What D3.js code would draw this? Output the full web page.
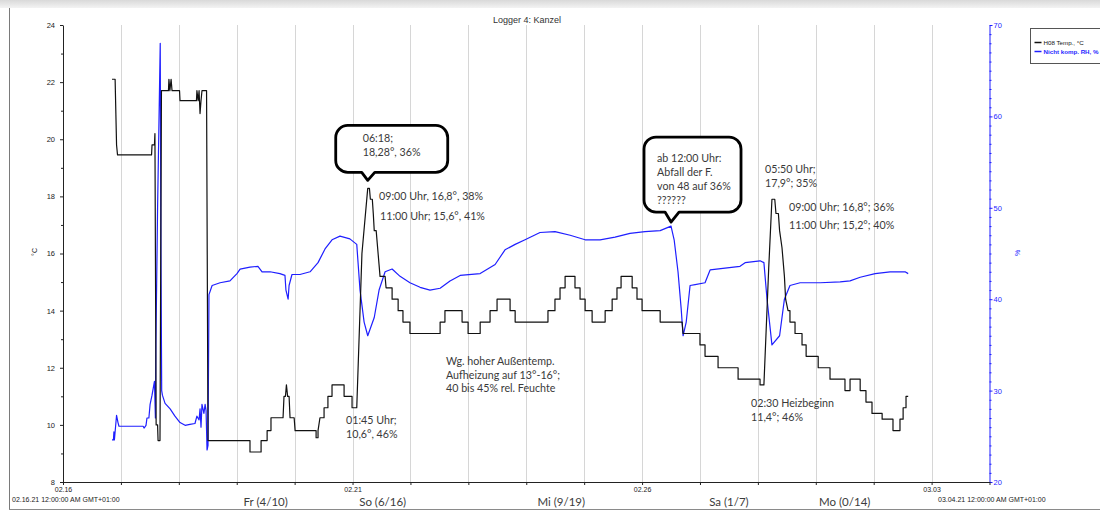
<!DOCTYPE html>
<html>
<head>
<meta charset="utf-8">
<script src="https://cdn.jsdelivr.net/npm/d3@7"></script>
<style>
  html, body { margin: 0; padding: 0; background: #fff; }
  svg { display: block; }
</style>
</head>
<body>
<svg id="chart" width="1100" height="511"></svg>
<script>
// ---- Data -------------------------------------------------------------
const chartTitle = "Logger 4: Kanzel";
const seriesNames = ["H08 Temp., °C", "Nicht komp. RH, %"];
const tempTicks = [8, 10, 12, 14, 16, 18, 20, 22, 24];
const rhTicks = [20, 30, 40, 50, 60, 70];
const dateTickLabels = ["02.16", "02.21", "02.26", "03.03"];
const rangeStartLabel = "02.16.21 12:00:00 AM GMT+01:00";
const rangeEndLabel = "03.04.21 12:00:00 AM GMT+01:00";
const weekdayLabels = ["Fr (4/10)", "So (6/16)", "Mi (9/19)", "Sa (1/7)", "Mo (0/14)"];
const weekdayHours = [84, 132.5, 206.5, 276, 324];   // label centres, hours since 16 Feb 00:00

// Readings: [hours since 16 Feb 2021 00:00, value]
const tempReadings = [
  [20.3, 22.1], [21.6, 22.1], [22.2, 19.8], [22.6, 19.45], [36.7, 19.45], [36.9, 19.8],
  [37.9, 19.8], [38.1, 20.2], [38.6, 10.0], [39.2, 10.0], [39.4, 9.45], [40.2, 9.45],
  [40.8, 21.7], [43.7, 21.7], [43.9, 22.1], [44.3, 21.7], [44.8, 22.1], [45.2, 21.7],
  [48.3, 21.7], [48.5, 21.35], [55.3, 21.35], [55.5, 21.7], [56.0, 21.35], [56.4, 21.7],
  [56.8, 20.9], [57.2, 21.35], [57.6, 21.7], [59.5, 21.7], [60.1, 9.45], [77.5, 9.45],
  [77.5, 9.05], [82.1, 9.05], [82.1, 9.45], [84.6, 9.45], [84.6, 9.8], [86.2, 9.8],
  [86.2, 10.25], [91.2, 10.25], [91.6, 11.0], [92.2, 11.0], [92.6, 11.4], [93.1, 11.0],
  [93.7, 11.0], [94.1, 10.25], [95.8, 10.25], [96.2, 9.8], [104.9, 9.8], [104.9, 9.55],
  [105.7, 9.55], [105.7, 9.8], [106.5, 10.25], [108.2, 10.25], [108.2, 10.6], [109.8, 10.6],
  [109.8, 11.0], [111.5, 11.0], [111.5, 11.4], [116.5, 11.4], [116.5, 11.0], [119.8, 11.0],
  [119.8, 10.6], [121.75, 10.6], [123.9, 16.0], [126.3, 18.28], [127.0, 18.28], [127.4, 17.9],
  [128.2, 17.9], [128.6, 17.4], [129, 16.8], [129.8, 16.8], [130.4, 16.2], [131, 15.6],
  [131.4, 15.2], [133.5, 15.2], [133.9, 14.8], [136.4, 14.8], [136.4, 14.4], [138.9, 14.4],
  [138.9, 14.0], [140.9, 14.0], [140.9, 13.6], [143.8, 13.6], [143.8, 13.2], [156.3, 13.2],
  [156.3, 13.6], [158.3, 13.6], [158.3, 14.0], [165.4, 14.0], [165.4, 13.6], [167.9, 13.6],
  [167.9, 13.2], [172.9, 13.2], [172.9, 13.6], [177.0, 13.6], [177.0, 14.0], [179.9, 14.0],
  [179.9, 14.4], [185.3, 14.4], [185.3, 14.0], [187.4, 14.0], [187.4, 13.6], [201.0, 13.6],
  [201.0, 14.0], [203.9, 14.0], [203.9, 14.4], [206.0, 14.4], [206.0, 14.8], [208.1, 14.8],
  [208.1, 15.2], [212.2, 15.2], [212.2, 14.8], [214.3, 14.8], [214.3, 14.4], [216.4, 14.4],
  [216.4, 14.0], [219.3, 14.0], [219.3, 13.6], [224.7, 13.6], [224.7, 14.0], [227.6, 14.0],
  [227.6, 14.4], [229.6, 14.4], [229.6, 14.8], [231.3, 14.8], [231.3, 15.2], [235.9, 15.2],
  [235.9, 14.8], [237.9, 14.8], [237.9, 14.4], [240.0, 14.4], [240.0, 14.0], [247.5, 14.0],
  [247.5, 13.6], [256.6, 13.6], [257.0, 13.2], [264.0, 13.2], [264.0, 12.8], [266.1, 12.8],
  [266.1, 12.4], [271.5, 12.4], [271.5, 12.0], [279.8, 12.0], [279.8, 11.6], [288.9, 11.6],
  [288.9, 11.4], [290.5, 11.4], [292.5, 15.5], [293.83, 17.9], [295.0, 17.9], [295.5, 17.4],
  [296.5, 17.4], [297, 16.8], [298, 16.2], [299, 15.2], [299.5, 14.4], [300.5, 14.0],
  [301.3, 14.0], [301.3, 13.6], [303.4, 13.6], [303.4, 13.2], [306.3, 13.2], [306.3, 12.8],
  [308.0, 12.8], [308.0, 12.4], [313.0, 12.4], [313.0, 12.0], [317.9, 12.0], [317.9, 11.6],
  [324.1, 11.6], [324.1, 11.2], [326.2, 11.2], [326.2, 11.6], [330.4, 11.6], [330.4, 11.2],
  [332.8, 11.2], [332.8, 10.8], [335.3, 10.8], [335.3, 10.4], [339.5, 10.4], [339.5, 10.2],
  [344.0, 10.2], [344.0, 9.8], [346.9, 9.8], [346.9, 10.2], [348.2, 10.2], [348.2, 10.6],
  [349.4, 10.6], [349.4, 11.0], [350.3, 11.0]
];

const rhReadings = [
  [20.3, 24.6], [20.9, 24.6], [21.1, 25.5], [21.3, 24.6], [22.2, 27.3], [22.8, 26.5],
  [23.2, 26.1], [33.2, 26.1], [33.6, 25.9], [34.4, 26.2], [34.8, 27.0], [35.6, 27.0],
  [36.1, 28.5], [36.9, 29.5], [37.3, 30.1], [37.9, 31.0], [38.3, 27.0], [38.5, 35],
  [39.2, 50], [40.3, 68.0], [40.6, 45], [40.9, 30], [41.2, 29.5], [42.3, 28.6],
  [44.4, 28.0], [46.4, 27.2], [48.5, 26.5], [50.6, 26.2], [52.6, 26.3], [54.7, 26.4],
  [55.5, 27.2], [56.4, 26.8], [56.8, 28.0], [57.2, 26.0], [57.6, 28.5], [58.4, 27.5],
  [58.9, 28.5], [59.3, 27.8], [59.7, 23.5], [60.1, 24], [60.5, 40.5], [61.8, 41.5],
  [65.1, 41.8], [69.2, 42.0], [72.1, 42.8], [73.4, 43.3], [77.5, 43.5], [80.8, 43.6],
  [82.5, 43.0], [85.8, 43.0], [89.9, 42.8], [92.0, 42.6], [92.4, 41.0], [93.3, 40.0],
  [93.7, 41.5], [94.9, 42.7], [98.2, 42.7], [102.4, 43.0], [105.7, 44.0], [108.6, 45.5],
  [111.5, 46.5], [114.8, 46.9], [118.9, 46.6], [121.75, 46], [123.1, 41], [124.8, 37.5],
  [126.3, 36], [129, 38], [131, 41], [133.5, 43.0], [136.4, 43.3], [139.7, 42.5],
  [143.8, 41.8], [148.0, 41.3], [152.1, 41.0], [156.3, 41.2], [160.4, 42.0], [164.6, 42.6],
  [172.9, 42.8], [179.1, 43.8], [183.2, 45.4], [187.4, 46.0], [191.5, 46.5], [197.7, 47.3],
  [203.9, 47.4], [210.2, 47.0], [216.4, 46.5], [222.6, 46.5], [228.8, 46.8], [235.0, 47.2],
  [241.2, 47.4], [247.5, 47.5], [252, 48], [253.3, 46.5], [254.9, 43], [256.2, 39],
  [257.0, 36], [258.3, 37.5], [259.9, 41.5], [262.0, 41.6], [266.1, 41.8], [268.2, 43.2],
  [274.4, 43.4], [280.6, 43.6], [282.7, 44.0], [288.9, 44.2], [290.5, 44.0], [291.8, 40],
  [293.83, 35], [297, 36], [299, 40], [301.3, 41.5], [305.5, 41.8], [313.8, 41.8],
  [322.1, 41.9], [326.2, 42.0], [330.4, 42.4], [336.6, 42.8], [342.8, 43.0], [349.0, 43.0],
  [350.3, 42.8]
];

// Notes written onto the chart
const calloutPeak = ["06:18;", "18,28°, 36%"];
const calloutDrop = ["ab 12:00 Uhr:", "Abfall der F.", "von 48 auf 36%", "??????"];
const notesFirst = [
  { lines: ["09:00 Uhr, 16,8°, 38%"] },
  { lines: ["11:00 Uhr; 15,6°, 41%"] },
  { lines: ["01:45 Uhr;", "10,6°, 46%"] },
  { lines: ["Wg. hoher Außentemp.", "Aufheizung auf 13°-16°;", "40 bis 45% rel. Feuchte"] }
];
const notesSecond = [
  { lines: ["05:50 Uhr;", "17,9°; 35%"] },
  { lines: ["09:00 Uhr; 16,8°; 36%"] },
  { lines: ["11:00 Uhr; 15,2°; 40%"] },
  { lines: ["02:30 Heizbeginn", "11,4°; 46%"] }
];

// ---- Scales -------------------------------------------------------------
const t0 = new Date(2021, 1, 16);
const t1 = new Date(2021, 2, 4);
const atHour = h => new Date(t0.getTime() + h * 3600e3);

const plot = { left: 63, right: 989.5, top: 25, bottom: 482 };
const x = d3.scaleTime().domain([t0, t1]).range([plot.left, plot.right]);
const yT = d3.scaleLinear().domain([8, 24]).range([plot.bottom, plot.top]);
const yH = d3.scaleLinear().domain([20, 70]).range([plot.bottom, plot.top]);

const svg = d3.select("#chart");
const AX_FONT = "'Liberation Sans', Arial, sans-serif";
const NOTE_FONT = "Lato, 'Open Sans', sans-serif";
const BLUE = "#1f1fff";

// ---- Window frame -------------------------------------------------------
const defs = svg.append("defs");
const grad = defs.append("linearGradient").attr("id", "topShade").attr("x1", 0).attr("x2", 0).attr("y1", 0).attr("y2", 1);
grad.append("stop").attr("offset", "0%").attr("stop-color", "#d9d9d9");
grad.append("stop").attr("offset", "100%").attr("stop-color", "#f3f3f3");
svg.append("rect").attr("x", 0).attr("y", 0).attr("width", 1100).attr("height", 8).attr("fill", "url(#topShade)");
svg.append("line").attr("x1", 9.5).attr("x2", 9.5).attr("y1", 8).attr("y2", 510).attr("stroke", "#7a7a7a");
svg.append("line").attr("x1", 9).attr("x2", 1100).attr("y1", 509.5).attr("y2", 509.5).attr("stroke", "#8a8a8a");

// ---- Title --------------------------------------------------------------
svg.append("text").attr("x", 527).attr("y", 23).attr("text-anchor", "middle")
  .attr("font-family", AX_FONT).attr("font-size", 9).attr("fill", "#333").text(chartTitle);

// ---- Day grid -----------------------------------------------------------
const days = d3.timeDay.range(d3.timeDay.offset(t0, 1), t1);
svg.append("g").selectAll("line").data(days).join("line")
  .attr("x1", d => Math.round(x(d)) + 0.5).attr("x2", d => Math.round(x(d)) + 0.5)
  .attr("y1", plot.top).attr("y2", plot.bottom)
  .attr("stroke", "#d6d6d6").attr("stroke-width", 1);

// ---- Axes -----------------------------------------------------------------
function styleAxis(g, color) {
  g.selectAll("path, line").attr("stroke", color);
  g.selectAll("text").attr("font-family", AX_FONT).attr("font-size", 7.5).attr("fill", color);
}

// left temperature axis
const leftMinor = svg.append("g").attr("transform", `translate(${plot.left},0)`)
  .call(d3.axisLeft(yT).tickValues(d3.range(9, 24, 2)).tickSize(2).tickFormat("").tickSizeOuter(0));
leftMinor.select(".domain").remove();
styleAxis(leftMinor, "#222");
const leftAxis = svg.append("g").attr("transform", `translate(${plot.left},0)`)
  .call(d3.axisLeft(yT).tickValues(tempTicks).tickSize(3).tickPadding(5).tickSizeOuter(0));
styleAxis(leftAxis, "#222");

// right humidity axis
const rightMinor = svg.append("g").attr("transform", `translate(${plot.right},0)`)
  .call(d3.axisRight(yH).tickValues(d3.range(20, 71).filter(v => v % 10)).tickSize(2).tickFormat("").tickSizeOuter(0));
rightMinor.select(".domain").remove();
styleAxis(rightMinor, BLUE);
const rightAxis = svg.append("g").attr("transform", `translate(${plot.right},0)`)
  .call(d3.axisRight(yH).tickValues(rhTicks).tickSize(3).tickPadding(1).tickSizeOuter(0));
styleAxis(rightAxis, BLUE);

// bottom time axis (a tick for every day, dates every fifth day)
const bottomAxis = svg.append("g").attr("transform", `translate(0,${plot.bottom})`)
  .call(d3.axisBottom(x).ticks(d3.timeDay.every(1)).tickSize(3).tickSizeOuter(0)
    .tickFormat((d, i) => (i % 5 === 0 ? dateTickLabels[i / 5] : "")));
styleAxis(bottomAxis, "#222");
bottomAxis.selectAll("text").attr("font-size", 7).attr("dy", "0.5em");

// axis unit labels
svg.append("text").attr("transform", "translate(37,252) rotate(-90)").attr("text-anchor", "middle")
  .attr("font-family", AX_FONT).attr("font-size", 7).attr("fill", "#222").text("°C");
svg.append("text").attr("transform", "translate(1020,253) rotate(-90)").attr("text-anchor", "middle")
  .attr("font-family", AX_FONT).attr("font-size", 7).attr("fill", BLUE).text("%");

// range labels under the axis
svg.append("text").attr("x", 12).attr("y", 502).attr("font-family", AX_FONT).attr("font-size", 7)
  .attr("fill", "#222").text(rangeStartLabel);
svg.append("text").attr("x", 938).attr("y", 502).attr("font-family", AX_FONT).attr("font-size", 7)
  .attr("fill", "#222").text(rangeEndLabel);

// weekday labels
svg.append("g").selectAll("text").data(weekdayLabels).join("text")
  .attr("x", (d, i) => x(atHour(weekdayHours[i]))).attr("y", 506).attr("text-anchor", "middle")
  .attr("font-family", NOTE_FONT).attr("font-size", 11.5).attr("fill", "#3c3c3c").text(d => d);

// ---- Series ---------------------------------------------------------------
const tempLine = d3.line().x(d => x(atHour(d[0]))).y(d => yT(d[1]));
const rhLine = d3.line().x(d => x(atHour(d[0]))).y(d => yH(d[1]));

svg.append("path").datum(rhReadings).attr("d", rhLine)
  .attr("fill", "none").attr("stroke", BLUE).attr("stroke-width", 1.2).attr("stroke-linejoin", "round");
svg.append("path").datum(tempReadings).attr("d", tempLine)
  .attr("fill", "none").attr("stroke", "#111").attr("stroke-width", 1.2).attr("stroke-linejoin", "round");

// ---- Legend -----------------------------------------------------------------
const legend = svg.append("g").attr("transform", "translate(1030.5,28.5)");
legend.append("rect").attr("width", 90).attr("height", 35).attr("fill", "#fff").attr("stroke", "#555");
seriesNames.forEach((name, i) => {
  const c = i === 0 ? "#111" : BLUE;
  legend.append("line").attr("x1", 4).attr("x2", 11).attr("y1", 14 + i * 9).attr("y2", 14 + i * 9)
    .attr("stroke", c).attr("stroke-width", 1.5);
  legend.append("text").attr("x", 13).attr("y", 16.2 + i * 9).attr("font-family", AX_FONT)
    .attr("font-size", 6.2).attr("font-weight", i === 1 ? "bold" : "normal").attr("fill", c).text(name);
});

// ---- Callouts -----------------------------------------------------------------
function callout(tipX, tipY, left, top, w, h, baseL, baseR, r) {
  const p = d3.path();
  p.moveTo(left + r, top);
  p.lineTo(left + w - r, top);
  p.arcTo(left + w, top, left + w, top + r, r);
  p.lineTo(left + w, top + h - r);
  p.arcTo(left + w, top + h, left + w - r, top + h, r);
  p.lineTo(baseR, top + h);
  p.lineTo(tipX, tipY);
  p.lineTo(baseL, top + h);
  p.lineTo(left + r, top + h);
  p.arcTo(left, top + h, left, top + h - r, r);
  p.lineTo(left, top + r);
  p.arcTo(left, top, left + r, top, r);
  p.closePath();
  svg.append("path").attr("d", p.toString()).attr("fill", "#fff")
    .attr("stroke", "#000").attr("stroke-width", 2.8).attr("stroke-linejoin", "round");
}

function noteText(lines, px, py, lh) {
  const t = svg.append("text").attr("font-family", NOTE_FONT).attr("font-size", 10.7)
    .attr("fill", "#3a3a3a");
  lines.forEach((s, i) => t.append("tspan").attr("x", px).attr("y", py + i * lh).text(s));
}

// peak of 21 Feb, 06:18
{
  const tx = x(atHour(126.3)), ty = yT(18.28) - 8;
  callout(tx, ty, tx - 32, ty - 55, 112, 47, tx - 6, tx + 7, 12);
  noteText(calloutPeak, tx - 5, ty - 38, 14);
}
// humidity drop of 26 Feb, 12:00
{
  const tx = x(atHour(252)), ty = yH(48) - 4;
  callout(tx, ty, tx - 27, ty - 85, 97, 75, tx - 6, tx + 8, 12);
  noteText(calloutDrop, tx - 14, ty - 60, 14);
}

noteText(notesFirst[0].lines, 379, 200, 14);
noteText(notesFirst[1].lines, 380, 220, 14);
noteText(notesFirst[2].lines, 346, 424, 13.5);
noteText(notesFirst[3].lines, 446, 365, 13.5);
noteText(notesSecond[0].lines, 765, 173, 14);
noteText(notesSecond[1].lines, 789, 211, 14);
noteText(notesSecond[2].lines, 789, 229, 14);
noteText(notesSecond[3].lines, 751, 407, 13.5);
</script>
</body>
</html>
